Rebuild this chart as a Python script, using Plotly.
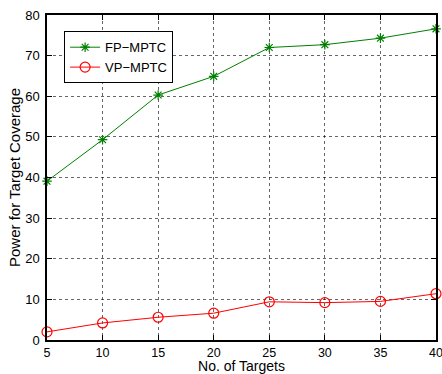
import plotly.graph_objects as go

targets = [5, 10, 15, 20, 25, 30, 35, 40]
fp_mptc = [39.1, 49.3, 60.3, 64.9, 72.0, 72.7, 74.3, 76.6]
vp_mptc = [2.0, 4.2, 5.6, 6.6, 9.4, 9.2, 9.5, 11.4]
x_ticks = [5, 10, 15, 20, 25, 30, 35, 40]
y_ticks = [0, 10, 20, 30, 40, 50, 60, 70, 80]

FONT = "Liberation Sans, Arial, Helvetica"

fig = go.Figure()
fig.add_trace(go.Scatter(
    x=targets, y=fp_mptc, name="FP\u2212MPTC", mode="lines+markers",
    line=dict(color="#008000", width=1),
    marker=dict(symbol="asterisk-open", size=8, color="#008000",
                line=dict(color="#008000", width=1.2)),
    cliponaxis=False,
))
fig.add_trace(go.Scatter(
    x=targets, y=vp_mptc, name="VP\u2212MPTC", mode="lines+markers",
    line=dict(color="#ff0000", width=1),
    marker=dict(symbol="circle-open", size=10, color="#ff0000",
                line=dict(color="#ff0000", width=1.2)),
    cliponaxis=False,
))

axis_common = dict(
    showline=True, mirror="allticks", linecolor="black", linewidth=1.5,
    ticks="inside", ticklen=5, tickcolor="black",
    showgrid=True, gridcolor="rgba(0,0,0,0.6)", griddash="dot", gridwidth=1,
    zeroline=False, automargin=False, ticklabeloverflow="allow",
)

fig.update_xaxes(
    range=[5, 40], tickvals=x_ticks, ticklabelstandoff=0,
    tickfont=dict(family=FONT, size=12.5, color="black"),
    title=dict(text="No. of Targets", font=dict(family=FONT, size=14, color="black"), standoff=7),
    **axis_common,
)
fig.update_yaxes(
    range=[0, 80], tickvals=y_ticks, ticklabelstandoff=3,
    tickfont=dict(family=FONT, size=13, color="black"),
    title=dict(text="Power for Target Coverage", font=dict(family=FONT, size=15, color="black"), standoff=1),
    **axis_common,
)

fig.update_layout(
    width=442, height=374,
    margin=dict(l=47, r=6, t=15, b=34),
    paper_bgcolor="white", plot_bgcolor="white",
    showlegend=True,
    legend=dict(
        x=0.044, y=0.95, xanchor="left", yanchor="top",
        bgcolor="white", bordercolor="black", borderwidth=1,
        font=dict(family=FONT, size=13, color="black"),
        tracegroupgap=0,
    ),
)

# remove the default 8px page margin so the figure fills the window exactly
fig.write_html(
    "out.html",
    config={"displayModeBar": False},
    post_script="document.body.style.margin='0';document.body.style.overflow='hidden';",
)
